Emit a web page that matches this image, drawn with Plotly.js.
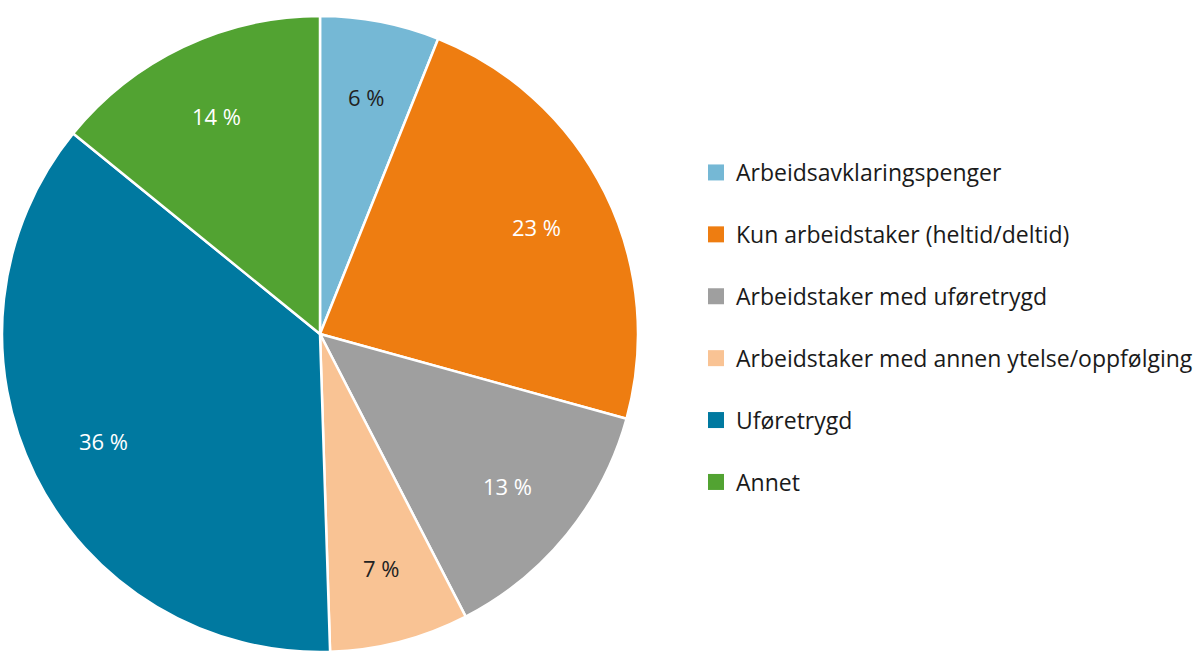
<!DOCTYPE html>
<html>
<head>
<meta charset="utf-8">
<script src="https://cdn.plot.ly/plotly-3.0.1.min.js"></script>
<style>html,body{margin:0;padding:0;background:#fff;}#chart{width:1200px;height:670px;}</style>
</head>
<body>
<div id="chart"></div>
<script>
const categories = [
  "Arbeidsavklaringspenger",
  "Kun arbeidstaker (heltid/deltid)",
  "Arbeidstaker med uføretrygd",
  "Arbeidstaker med annen ytelse/oppfølging",
  "Uføretrygd",
  "Annet"
];
const values = [6, 23, 13, 7, 36, 14];
const valueLabels = ["6 %", "23 %", "13 %", "7 %", "36 %", "14 %"];
const colors = ["#75b8d5", "#ee7d11", "#9f9f9f", "#f9c394", "#0079a0", "#52a332"];
const textColors = ["#222222", "#ffffff", "#ffffff", "#222222", "#ffffff", "#ffffff"];

const FONT = "Open Sans, Noto Sans, sans-serif";

// layout geometry
const W = 1200, H = 670;
const M = {l: 0, r: 0, t: 16, b: 18};
const plotH = H - M.t - M.b;
const pieDomX = [2 / W, 638 / W];
const cx = (pieDomX[0] + pieDomX[1]) / 2 * W;          // pixel
const cy = M.t + plotH / 2;                           // pixel
const R = Math.min((pieDomX[1] - pieDomX[0]) * W, plotH) / 2;
const labelFrac = 0.76;

const pie = {
  type: "pie",
  labels: categories,
  values: values,
  sort: false,
  direction: "clockwise",
  rotation: 0,
  marker: {colors: colors, line: {color: "#ffffff", width: 2.5}},
  textinfo: "none",
  domain: {x: pieDomX, y: [0, 1]},
  showlegend: false,
  hoverinfo: "label+percent"
};

// value labels placed at the middle angle of each slice
const total = values.reduce((a, b) => a + b, 0);
let cum = 0;
const annotations = values.map((v, i) => {
  const mid = (cum + v / 2) / total * 2 * Math.PI;
  cum += v;
  const px = cx + labelFrac * R * Math.sin(mid);
  const py = cy - labelFrac * R * Math.cos(mid);
  return {
    xref: "paper", yref: "paper",
    x: px / W, y: (H - M.b - py) / plotH,
    xanchor: "center", yanchor: "middle",
    text: valueLabels[i], showarrow: false,
    font: {family: FONT, size: 22, color: textColors[i]}
  };
});

const legendTraces = categories.map((c, i) => ({
  type: "scatter",
  mode: "markers",
  x: [null], y: [null],
  name: c,
  legendgroup: "g" + i,
  marker: {symbol: "square", size: 17, color: colors[i]},
  showlegend: true,
  hoverinfo: "skip"
}));

const layout = {
  width: W, height: H,
  margin: M,
  paper_bgcolor: "#ffffff",
  plot_bgcolor: "#ffffff",
  xaxis: {visible: false, domain: [0.99, 1]},
  yaxis: {visible: false, domain: [0.99, 1]},
  showlegend: true,
  annotations: annotations,
  legend: {
    x: 696 / W, xanchor: "left",
    y: 1 - 135 / plotH, yanchor: "top",
    font: {family: FONT, size: 23, color: "#1a1a1a"},
    tracegroupgap: 29,
    bgcolor: "rgba(0,0,0,0)"
  }
};

Plotly.newPlot("chart", [pie, ...legendTraces], layout, {displayModeBar: false, staticPlot: true});
</script>
</body>
</html>
